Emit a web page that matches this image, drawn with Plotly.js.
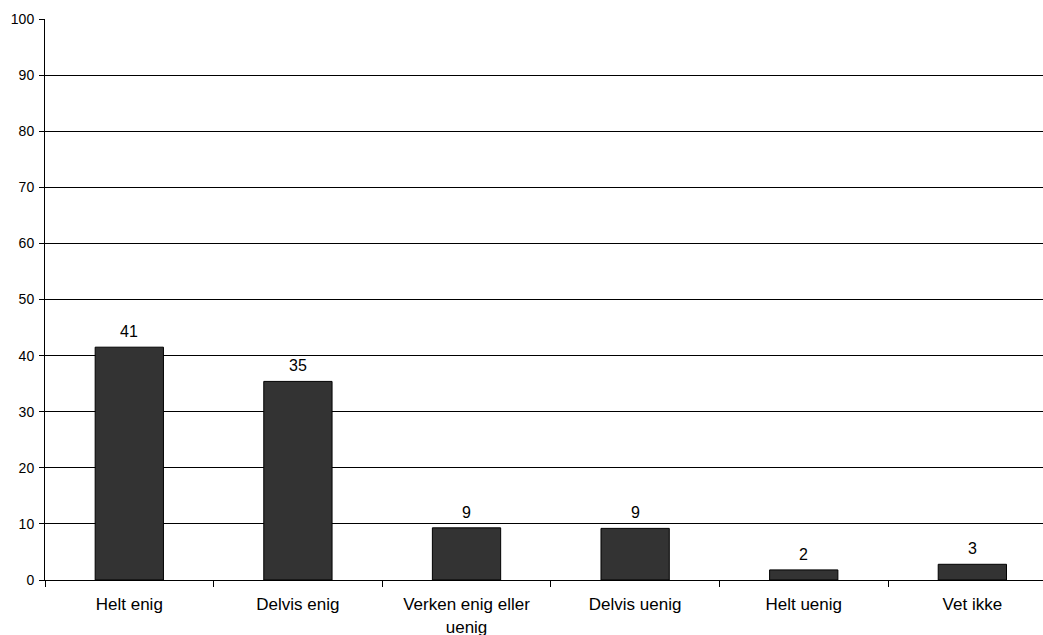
<!DOCTYPE html>
<html>
<head>
<meta charset="utf-8">
<script src="https://cdn.plot.ly/plotly-3.0.1.min.js"></script>
<style>html,body{margin:0;padding:0;background:#fff;}#chart{width:1043px;height:635px;}</style>
</head>
<body>
<div id="chart"></div>
<script>
var categories = ["Helt enig", "Delvis enig", "Verken enig eller<br>uenig", "Delvis uenig", "Helt uenig", "Vet ikke"];
var values = [41.5, 35.4, 9.3, 9.2, 1.8, 2.8];
var valueLabels = ["41", "35", "9", "9", "2", "3"];
var yTicks = [0, 10, 20, 30, 40, 50, 60, 70, 80, 90, 100];

var font = "Liberation Sans, Arial, sans-serif";

var trace = {
  type: "bar",
  x: categories,
  y: values,
  width: 0.405,
  marker: {color: "#333333", line: {color: "#000000", width: 1}},
  hoverinfo: "none"
};

var annotations = categories.map(function(c, i) {
  return {
    x: c, y: values[i], xref: "x", yref: "y",
    text: valueLabels[i], showarrow: false,
    yanchor: "bottom", yshift: 5,
    font: {family: font, size: 16, color: "#000"}
  };
});

var layout = {
  width: 1043, height: 635,
  margin: {l: 45, r: 0, t: 19, b: 55, pad: 0},
  paper_bgcolor: "#fff", plot_bgcolor: "#fff",
  showlegend: false,
  font: {family: font, color: "#000"},
  xaxis: {
    type: "category",
    range: [-0.5, 5.419],
    tickson: "boundaries",
    ticks: "outside", ticklen: 6, tickcolor: "#000", tickwidth: 1,
    ticklabelstandoff: 9,
    showline: true, linecolor: "#000", linewidth: 1,
    showgrid: false, zeroline: false,
    tickfont: {family: font, size: 17, color: "#000"},
    automargin: false,
    fixedrange: true
  },
  yaxis: {
    range: [0, 100],
    tickvals: yTicks,
    ticktext: yTicks.map(String),
    ticks: "outside", ticklen: 5, tickcolor: "#000", tickwidth: 1,
    ticklabelstandoff: 2,
    showline: true, linecolor: "#000", linewidth: 1,
    showgrid: true, gridcolor: "#000", gridwidth: 1,
    zeroline: false,
    tickfont: {family: font, size: 14, color: "#000"},
    automargin: false,
    fixedrange: true
  },
  annotations: annotations
};

Plotly.newPlot("chart", [trace], layout, {displayModeBar: false, staticPlot: true});
</script>
</body>
</html>
